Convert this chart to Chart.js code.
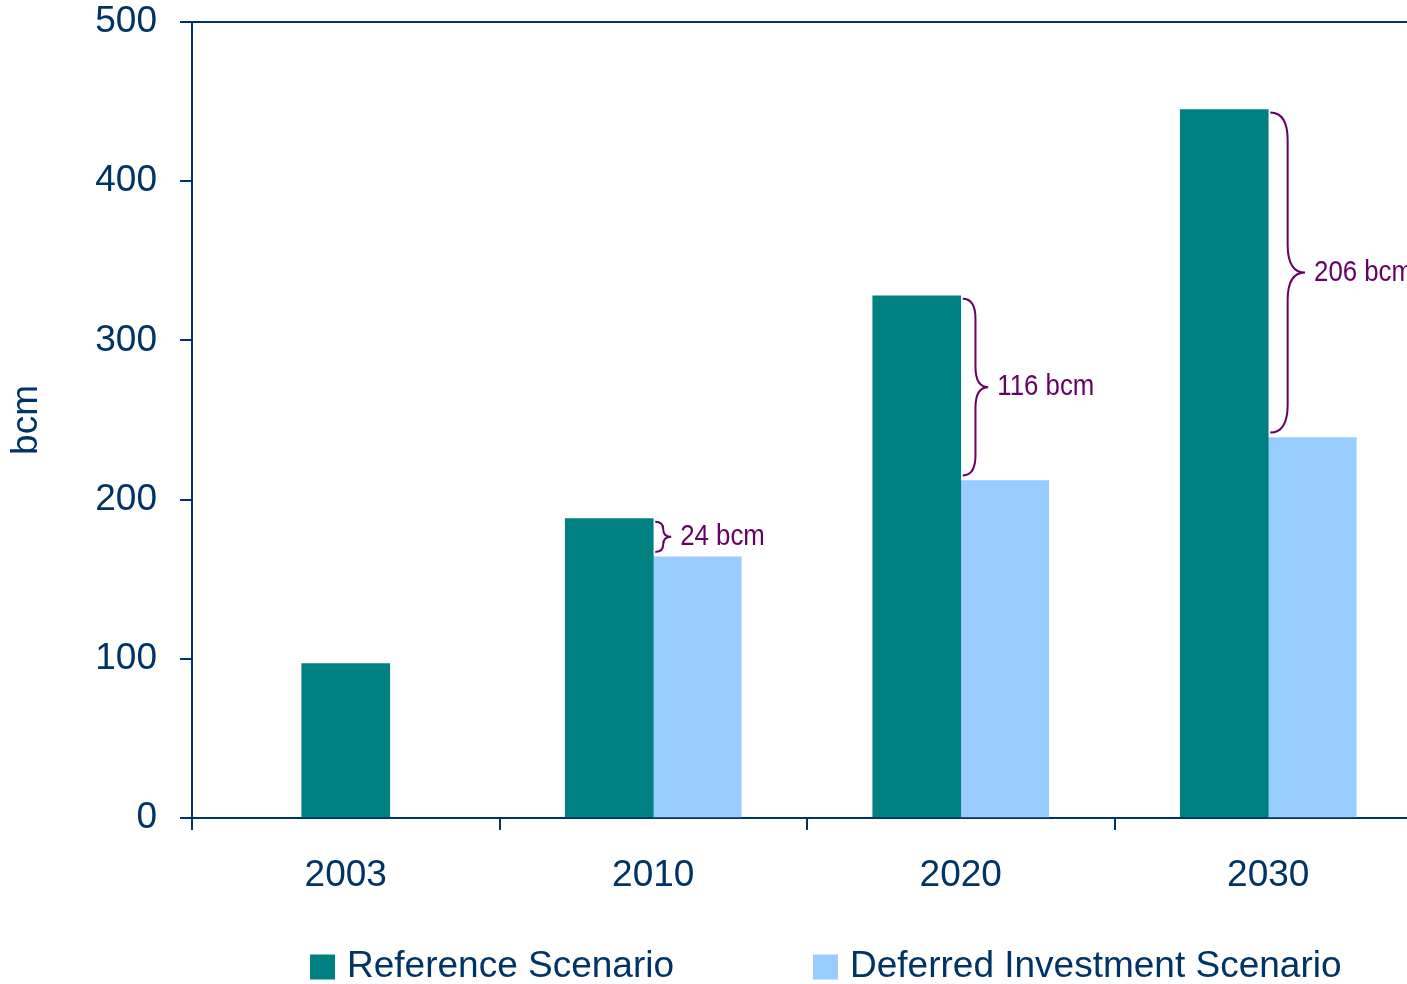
<!DOCTYPE html>
<html>
<head>
<meta charset="utf-8">
<title>Reference vs Deferred Investment Scenario (bcm)</title>
<script src="https://cdn.jsdelivr.net/npm/chart.js@4.4.1/dist/chart.umd.min.js"></script>
<style>
  html, body { margin: 0; padding: 0; background: #fff; overflow: hidden; }
  #wrap { position: absolute; left: 0; top: 0; width: 1430px; height: 984px; }
</style>
</head>
<body>
<div id="wrap"><canvas id="chart"></canvas></div>
<script>
// data
const years = ['2003', '2010', '2020', '2030'];
const referenceScenario = [97, 188, 328, 445];
const deferredScenario = [null, 164, 212, 239];
const gapLabels = [null, '24 bcm', '116 bcm', '206 bcm'];
const yTicks = [0, 100, 200, 300, 400, 500];

const NAVY = '#003366';
const TEAL = '#008080';
const SKY = '#99CCFF';
const PLUM = '#660066';
const FONT = "'Liberation Sans', Arial, sans-serif";

// top edge of the plot frame
const topFrame = {
    id: 'topFrame',
    afterDraw(chart) {
        const { ctx, chartArea: a } = chart;
        ctx.save();
        ctx.strokeStyle = NAVY;
        ctx.lineWidth = 2;
        ctx.beginPath();
        ctx.moveTo(a.left, a.top);
        ctx.lineTo(a.right, a.top);
        ctx.stroke();
        ctx.restore();
    }
};

// curly braces showing the gap between the two scenarios
const gapBraces = {
    id: 'gapBraces',
    afterDatasetsDraw(chart) {
        const { ctx, scales: { y } } = chart;
        const refMeta = chart.getDatasetMeta(0);
        ctx.save();
        ctx.strokeStyle = PLUM;
        ctx.fillStyle = PLUM;
        ctx.lineWidth = 2;
        gapLabels.forEach((txt, i) => {
            if (!txt || deferredScenario[i] == null) return;
            const bar = refMeta.data[i];
            const x0 = bar.x + bar.width / 2 + 2;
            const y1 = y.getPixelForValue(referenceScenario[i]) + 3;
            const y2 = y.getPixelForValue(deferredScenario[i]) - 5;
            const h = y2 - y1;
            const w = 14 + h * 0.065;
            const xm = x0 + w / 2, ym = (y1 + y2) / 2;
            const r = Math.min(w * 0.8, h / 4);
            ctx.beginPath();
            ctx.moveTo(x0, y1);
            ctx.quadraticCurveTo(xm, y1, xm, y1 + r);
            ctx.lineTo(xm, ym - r);
            ctx.quadraticCurveTo(xm, ym, x0 + w, ym);
            ctx.quadraticCurveTo(xm, ym, xm, ym + r);
            ctx.lineTo(xm, y2 - r);
            ctx.quadraticCurveTo(xm, y2, x0, y2);
            ctx.stroke();
            // narrow lettering like the original (no condensed font installed)
            ctx.save();
            ctx.translate(x0 + w + 9, ym);
            ctx.scale(0.86, 1);
            ctx.font = '30px ' + FONT;
            ctx.textAlign = 'left';
            ctx.textBaseline = 'middle';
            ctx.fillText(txt, 0, 0);
            ctx.restore();
        });
        ctx.restore();
    }
};

// legend row under the axis
const bottomLegend = {
    id: 'bottomLegend',
    afterDraw(chart) {
        const { ctx, chartArea } = chart;
        const cy = 967, box = 25;
        let x = chartArea.left + 118;
        ctx.save();
        ctx.font = '37px ' + FONT;
        ctx.textAlign = 'left';
        ctx.textBaseline = 'middle';
        chart.data.datasets.forEach(ds => {
            ctx.fillStyle = ds.backgroundColor;
            ctx.fillRect(x, cy - box / 2, box, box);
            x += box + 12;
            ctx.fillStyle = NAVY;
            ctx.fillText(ds.label, x, cy);
            x += ctx.measureText(ds.label).width + 139;
        });
        ctx.restore();
    }
};

new Chart(document.getElementById('chart'), {
    type: 'bar',
    data: {
        labels: years,
        datasets: [
            { label: 'Reference Scenario', data: referenceScenario, backgroundColor: TEAL },
            { label: 'Deferred Investment Scenario', data: deferredScenario, backgroundColor: SKY }
        ]
    },
    options: {
        responsive: true, maintainAspectRatio: false, animation: false,
        datasets: { bar: { skipNull: true, barThickness: 88 } },
        layout: { padding: { top: 22, right: 8, bottom: 0, left: 0 } },
        plugins: { legend: { display: false }, tooltip: { enabled: false } },
        scales: {
            x: {
                grid: { drawOnChartArea: false, tickLength: 12, color: NAVY, lineWidth: 2, offset: true },
                border: { color: NAVY, width: 2 },
                ticks: { color: NAVY, font: { family: FONT, size: 37 }, padding: 24 },
                afterFit: s => { s.height = 166; }
            },
            y: {
                min: 0, max: 500,
                afterBuildTicks: s => { s.ticks = yTicks.map(v => ({ value: v })); },
                ticks: { color: NAVY, font: { family: FONT, size: 37 }, padding: 23 },
                grid: { drawOnChartArea: false, tickLength: 12, color: NAVY, lineWidth: 2 },
                border: { color: NAVY, width: 2 },
                title: { display: true, text: 'bcm', color: NAVY,
                         font: { family: FONT, size: 37 }, padding: { top: 5, bottom: 0 } },
                afterFit: s => { s.width = 192; s.paddingTop = 0; s.paddingBottom = 0; }
            }
        }
    },
    plugins: [topFrame, gapBraces, bottomLegend]
});
</script>
</body>
</html>
